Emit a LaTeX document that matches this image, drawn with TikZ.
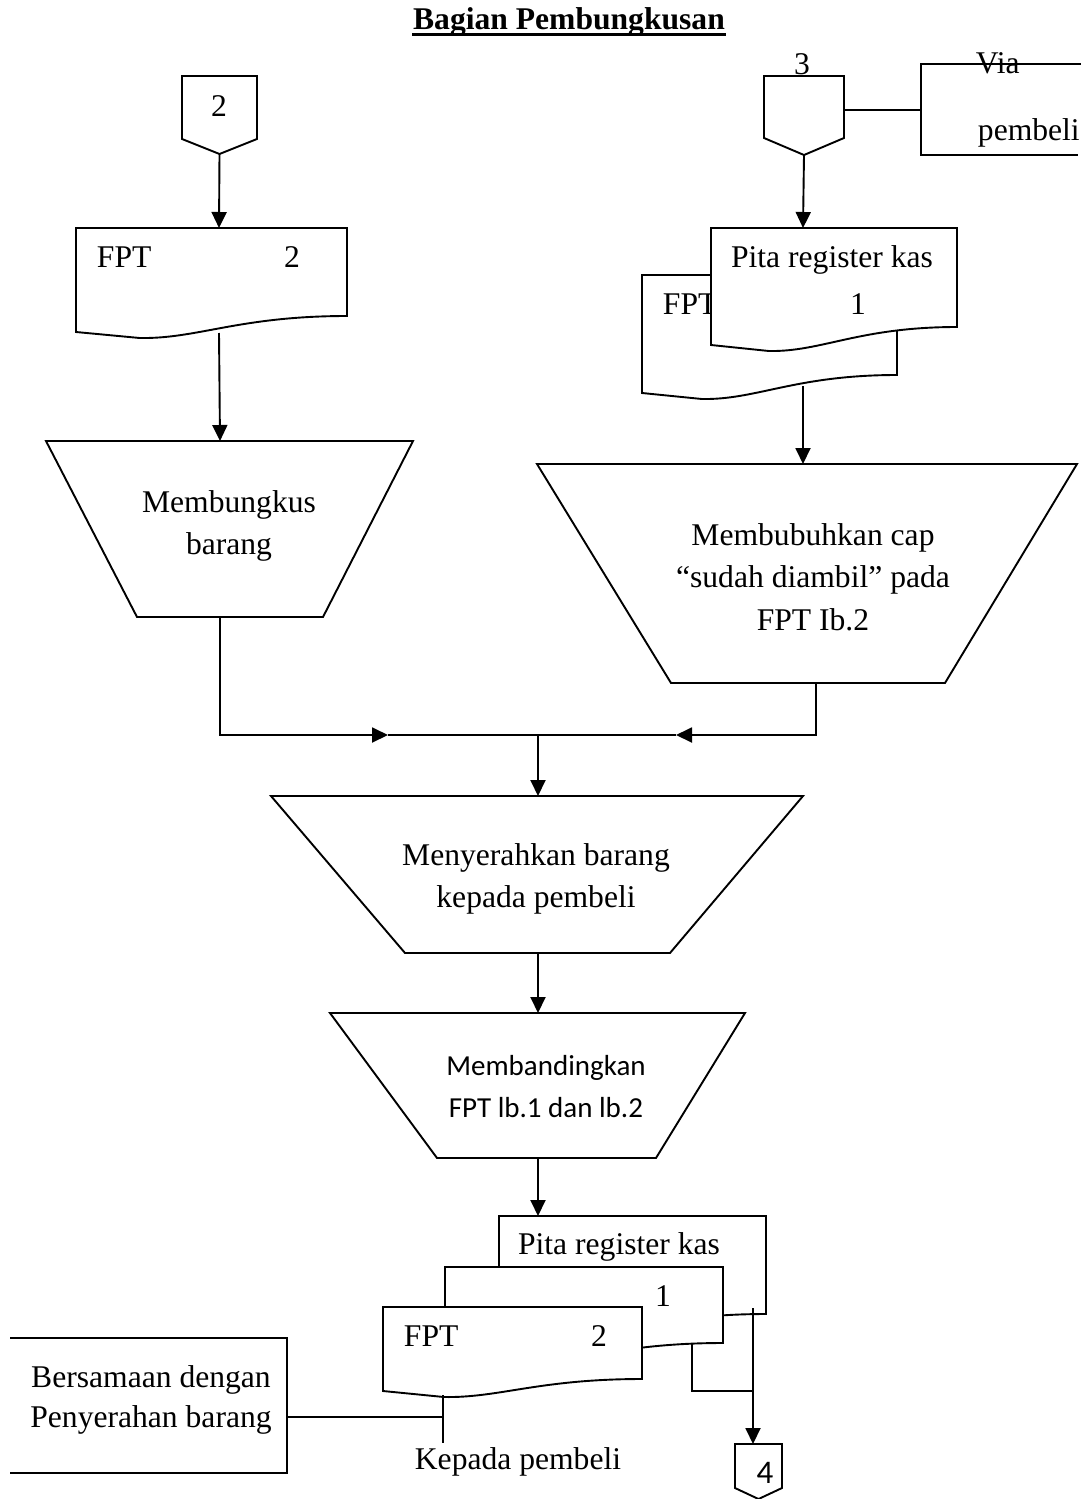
\documentclass[tikz,border=0pt]{standalone}
\usepackage{fontspec}
\setmainfont{Liberation Serif}
\newfontfamily\calib{Carlito}
\usetikzlibrary{arrows.meta}
\newcommand\docshape[5]{%
  \draw[shp] (#1,#2) -- (#3,#2) -- (#3,#4)
    .. controls ({#1+0.6*(#3-#1)},#4) and ({#1+0.45*(#3-#1)},{#5+7}) ..
    ({#1+0.235*(#3-#1)},{#5+6}) -- (#1,#5) -- cycle;}
\newcommand\offpage[6]{% xl, xr, top, side bottom, point y, name
  \draw[shp] (#1,#3) -- (#2,#3) -- (#2,#4) -- ({(#1+#2)/2},#5) -- (#1,#4) -- cycle;
  \coordinate (#6) at ({(#1+#2)/2},#5);}
\begin{document}
\begin{tikzpicture}[x=1pt,y=-1pt,line width=1.9pt,
  every node/.style={inner sep=0pt,font=\fontsize{31.6}{42}\selectfont},
  shp/.style={draw,fill=white,line join=miter},
  arr/.style={-{Triangle[length=16pt,width=15pt]}},
  sans/.style={font=\calib\fontsize{29}{42}\selectfont}]
\useasboundingbox (0,0) rectangle (1081,1499);

% title
\node[anchor=base,font=\bfseries\fontsize{31.6}{42}\selectfont] (title) at (569,29) {Bagian Pembungkusan};
\draw[line width=3pt] ([yshift=-5.5pt]title.base west) -- ([yshift=-5.5pt]title.base east);

% ---------- left column top ----------
\offpage{182}{257}{76}{139}{154}{c2b}
\node[anchor=base] (c2lab) at (219,116) {2};
\docshape{76}{228}{347}{316}{332}
\coordinate (d1t) at (219,228);
\coordinate (d1b) at (219,333);
\node[anchor=base west] (d1a) at (96,267) {FPT};
\node[anchor=base] (d1n) at (292,267) {2};
\draw[arr] (c2b) -- (d1t);

\draw[shp] (46,441) -- (413,441) -- (323,617) -- (137,617) -- cycle;
\coordinate (t1t) at (220,441);
\coordinate (t1b) at (220,617);
\node[anchor=base] (t1a) at (229,512) {Membungkus};
\node[anchor=base] (t1c) at (229,554) {barang};
\draw[arr] (d1b) -- (t1t);

% ---------- right column top ----------
\offpage{764}{844}{76}{138}{155}{c3b}
\coordinate (c3r) at (844,110);
\node[anchor=base] (c3lab) at (802,74) {3};
\coordinate (br) at (921,110);
\draw (1081,64) -- (921,64) -- (921,155) -- (1078,155);
\draw (c3r) -- (br);
\node[anchor=base west] (via) at (975,73) {Via};
\node[anchor=base west] (viap) at (977,140) {pembeli};

\docshape{642}{275}{897}{375}{393}
\node[anchor=base west] (d2a) at (662,314) {FPT};
\docshape{711}{228}{957}{327}{345}
\node[anchor=base] (d2c) at (832,267) {Pita register kas};
\node[anchor=base] (d2n) at (858,314) {1};
\coordinate (d2t) at (803,228);
\coordinate (d2b) at (803,386);
\draw[arr] (c3b) -- (d2t);

\draw[shp] (537,464) -- (1077,464) -- (945,683) -- (671,683) -- cycle;
\coordinate (t2t) at (803,464);
\coordinate (t2b) at (816,683);
\node[anchor=base] (t2a) at (813,545) {Membubuhkan cap};
\node[anchor=base] (t2c) at (813,587) {``sudah diambil'' pada};
\node[anchor=base] (t2d) at (813,630) {FPT Ib.2};
\draw[arr] (d2b) -- (t2t);

% ---------- merge ----------
\coordinate (ml) at (388,735);
\coordinate (mr) at (676,735);
\coordinate (mj) at (538,735);
\draw[arr] (t1b) |- (ml);
\draw[arr] (t2b) |- (mr);
\draw[line width=1.4pt] (ml) -- (mr);

\draw[shp] (271,796) -- (803,796) -- (670,953) -- (405,953) -- cycle;
\coordinate (t3t) at (538,796);
\coordinate (t3b) at (538,953);
\node[anchor=base] (t3a) at (536,865) {Menyerahkan barang};
\node[anchor=base] (t3c) at (536,907) {kepada pembeli};
\draw[arr] (mj) -- (t3t);

\draw[shp] (330,1013) -- (745,1013) -- (656,1158) -- (437,1158) -- cycle;
\coordinate (t4t) at (538,1013);
\coordinate (t4b) at (538,1158);
\node[anchor=base,sans] (t4a) at (546,1075) {Membandingkan};
\node[anchor=base,sans] (t4c) at (546,1117) {FPT lb.1 dan lb.2};
\draw[arr] (t3b) -- (t4t);

% ---------- bottom stack ----------
\docshape{499}{1216}{766}{1314}{1330}
\node[anchor=base] (d3a) at (619,1254) {Pita register kas};
\docshape{445}{1267}{723}{1343}{1359}
\node[anchor=base] (d3b) at (663,1306) {1};
\docshape{383}{1307}{642}{1379}{1391}
\node[anchor=base west] (d3c) at (403,1346) {FPT};
\node[anchor=base] (d3d) at (599,1346) {2};
\coordinate (sAt) at (538,1216);
\draw[arr] (t4b) -- (sAt);

\coordinate (sB) at (692,1344);
\coordinate (j4) at (753,1391);
\coordinate (sA) at (753,1308);
\draw (sB) |- (j4);
\offpage{735}{782}{1444}{1488}{1499}{c4b}
\coordinate (c4t) at (753,1444);
\node[anchor=base,font=\calib\fontsize{33}{40}\selectfont] (c4lab) at (765,1483) {4};
\draw[arr] (sA) -- (c4t);

\coordinate (sC) at (443,1395);
\coordinate (sCe) at (443,1443);
\coordinate (sCj) at (443,1417);
\draw (sC) -- (sCe);
\draw (10,1338) -- (287,1338) -- (287,1473) -- (10,1473);
\coordinate (ann) at (287,1417);
\draw (ann) -- (sCj);
\node[anchor=base] (ann1) at (151,1387) {Bersamaan dengan};
\node[anchor=base] (ann2) at (151,1427) {Penyerahan barang};
\node[anchor=base] (kp) at (518,1469) {Kepada pembeli};
\end{tikzpicture}
\end{document}
